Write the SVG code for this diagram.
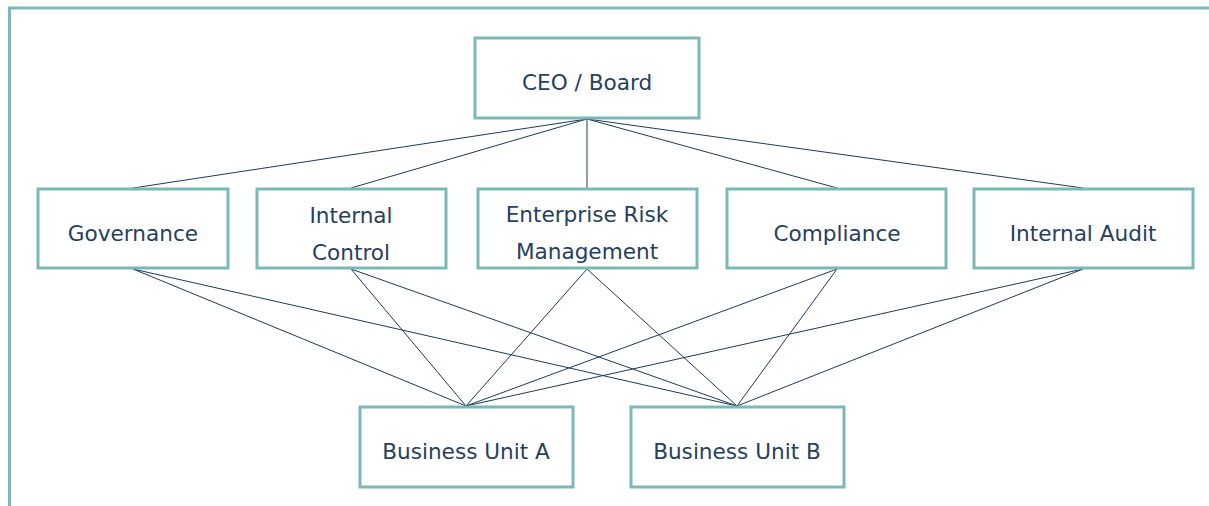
<svg xmlns="http://www.w3.org/2000/svg" width="1209" height="506" viewBox="0 0 1209 506">
<style>
.frame{fill:none;stroke:#7ab9b8;stroke-width:3}
.box{fill:#fff;stroke:#7ab9b8;stroke-width:3}
.lbl{font-family:"DejaVu Sans","Verdana",sans-serif;font-size:21.6px;fill:#26405e;text-anchor:middle;dominant-baseline:central}
.conn line{stroke:#1f3a5a;stroke-width:1}
</style>
<path class="frame" d="M9.5 506 V8 H1209"/>
<g id="connectors" class="conn">
<line x1="587" y1="119" x2="133" y2="188"/>
<line x1="587" y1="119" x2="351" y2="188"/>
<line x1="587" y1="119" x2="587" y2="188"/>
<line x1="587" y1="119" x2="837" y2="188"/>
<line x1="587" y1="119" x2="1083" y2="188"/>
<line x1="133" y1="269" x2="466" y2="406"/>
<line x1="133" y1="269" x2="737" y2="406"/>
<line x1="351" y1="269" x2="466" y2="406"/>
<line x1="351" y1="269" x2="737" y2="406"/>
<line x1="587" y1="269" x2="466" y2="406"/>
<line x1="587" y1="269" x2="737" y2="406"/>
<line x1="837" y1="269" x2="466" y2="406"/>
<line x1="837" y1="269" x2="737" y2="406"/>
<line x1="1083" y1="269" x2="466" y2="406"/>
<line x1="1083" y1="269" x2="737" y2="406"/>
</g>
<g id="ceo"><rect class="box" x="475" y="38" width="224" height="80"/><text class="lbl" x="587" y="82">CEO / Board</text></g>
<g id="governance"><rect class="box" x="38" y="189" width="190" height="79"/><text class="lbl" x="133" y="233">Governance</text></g>
<g id="internal-control"><rect class="box" x="257" y="189" width="189" height="79"/><text class="lbl" x="351" y="215">Internal</text><text class="lbl" x="351" y="252">Control</text></g>
<g id="erm"><rect class="box" x="478" y="189" width="219" height="79"/><text class="lbl" x="587" y="214">Enterprise Risk</text><text class="lbl" x="587" y="251">Management</text></g>
<g id="compliance"><rect class="box" x="727" y="189" width="219" height="79"/><text class="lbl" x="837" y="233">Compliance</text></g>
<g id="internal-audit"><rect class="box" x="974" y="189" width="219" height="79"/><text class="lbl" x="1083" y="233">Internal Audit</text></g>
<g id="bu-a"><rect class="box" x="360" y="407" width="213" height="80"/><text class="lbl" x="466" y="451">Business Unit A</text></g>
<g id="bu-b"><rect class="box" x="631" y="407" width="213" height="80"/><text class="lbl" x="737" y="451">Business Unit B</text></g>
</svg>
